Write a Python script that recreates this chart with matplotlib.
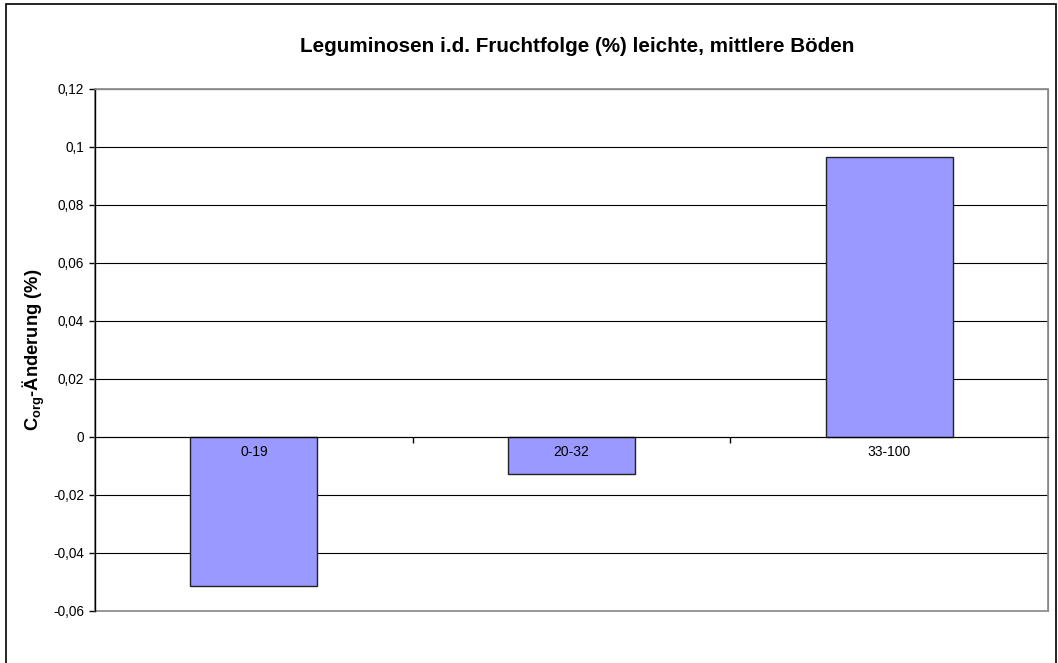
import matplotlib
matplotlib.use("Agg")
import matplotlib.pyplot as plt
from matplotlib.patches import Rectangle

plt.rcParams['font.family'] = ['Liberation Sans', 'DejaVu Sans']
plt.rcParams['mathtext.fontset'] = 'custom'
plt.rcParams['mathtext.rm'] = 'Liberation Sans'
plt.rcParams['mathtext.bf'] = 'Liberation Sans:bold'

# Daten
kategorien = ['0-19', '20-32', '33-100']
werte = [-0.0514, -0.0128, 0.0966]
y_ticks = [-0.06, -0.04, -0.02, 0, 0.02, 0.04, 0.06, 0.08, 0.1, 0.12]
y_labels = ['-0,06', '-0,04', '-0,02', '0', '0,02', '0,04', '0,06', '0,08', '0,1', '0,12']
titel = 'Leguminosen i.d. Fruchtfolge (%) leichte, mittlere Böden'

W, H = 1058, 663
fig = plt.figure(figsize=(W / 100, H / 100), dpi=100)
ax = fig.add_axes([95 / W, 1 - 611 / H, (1048 - 95) / W, (611 - 89) / H])

x = range(len(kategorien))
ax.bar(x, werte, width=0.4, color='#9999FF', edgecolor='#222222', linewidth=1, zorder=3)

ax.set_xlim(-0.5, len(kategorien) - 0.5)
ax.set_ylim(-0.06, 0.12)
ax.set_yticks(y_ticks)
ax.set_yticklabels(y_labels, fontsize=9.8)
ax.tick_params(axis='y', direction='out', length=4, width=1, pad=4)

# Kategorieachse bei 0
ax.spines['bottom'].set_position(('data', 0))
ax.spines['bottom'].set_zorder(4)
ax.set_xticks([0.5, 1.5])
ax.set_xticklabels([])
ax.tick_params(axis='x', direction='out', length=4, width=1)
for s in ['top', 'right']:
    ax.spines[s].set_color('#888888')
ax.spines['left'].set_linewidth(1)

ax.grid(axis='y', color='black', linewidth=0.8, zorder=0)
ax.set_axisbelow(True)
ax.add_patch(Rectangle((0, 0), 1, 1, transform=ax.transAxes, fill=False,
                       edgecolor='#888888', linewidth=1.2, zorder=2, clip_on=False))

for xi, name in zip(x, kategorien):
    ax.annotate(name, (xi, 0), xytext=(0, -11), textcoords='offset points',
                ha='center', va='center', fontsize=10, zorder=5)

ax.set_ylabel(r'C$_{\mathbf{org}}$-Änderung (%)', fontsize=13.2, fontweight='bold', labelpad=4)
fig.text(577 / W, 1 - 47 / H, titel, ha='center', va='center',
         fontsize=14.9, fontweight='bold')

# Rahmen um das Diagramm
fig.add_artist(Rectangle((6 / W, -0.05), (1056 - 6) / W, 1.05 - 4 / H,
                         transform=fig.transFigure, fill=False,
                         edgecolor='black', linewidth=1.2))

fig.savefig('out.png', dpi=100)
